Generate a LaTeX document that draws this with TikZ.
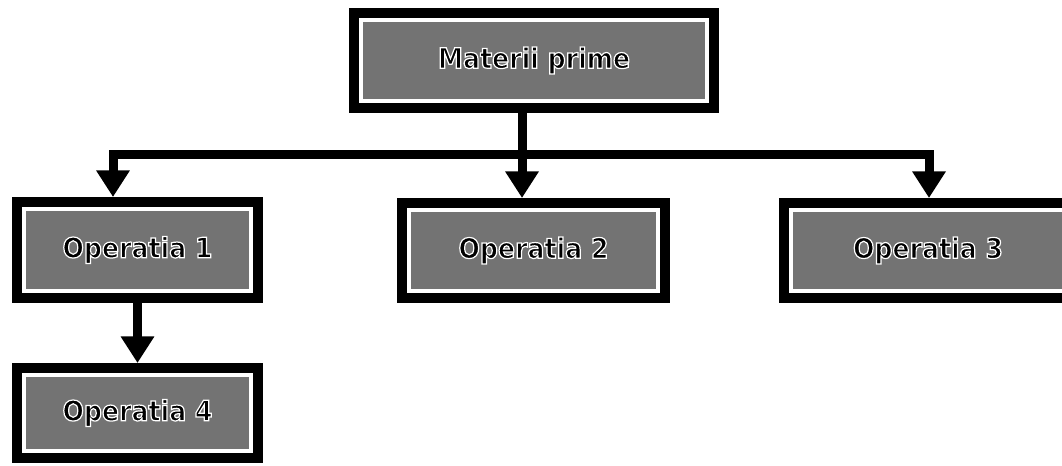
\documentclass[tikz,border=0pt]{standalone}
\usepackage{fontspec}
\newfontfamily\boxfont[FakeStretch=0.9]{DejaVu Sans Bold}
\usetikzlibrary{arrows.meta}
% black letters, white halo
\newcommand{\boxtext}[1]{{\special{pdf:literal direct 2 Tr 0.9 w 1 1 1 RG}#1\special{pdf:literal direct 0 Tr 0 0 0 RG}}}
\tikzset{
  opbox/.style={rectangle, fill=black!55, draw=white, line width=3pt,
    preaction={draw=black, line width=18pt},
    outer sep=9pt, inner sep=0pt,
    font=\boxfont\fontsize{21}{25}\selectfont},
  link/.style={line width=6.75pt, line cap=rect},
  flow/.style={link, -{Triangle[width=24pt,length=20pt]}}
}
\begin{document}
\begin{tikzpicture}[x=0.75pt,y=0.75pt,yscale=-1,xscale=1]
        \useasboundingbox (0,0) rectangle (1062,465);

        % Boxes
        \node[opbox, minimum width=259.5pt, minimum height=60.75pt] (mat) at (534,60.5) {\boxtext{Materii prime}};
        \node[opbox, minimum width=170.25pt, minimum height=61.5pt] (op1) at (137.5,250) {\boxtext{Operatia 1}};
        \node[opbox, minimum width=186.75pt, minimum height=60.75pt] (op2) at (533.5,250.5) {\boxtext{Operatia 2}};
        \node[opbox, minimum width=205.5pt, minimum height=60.75pt] (op3) at (928,250.5) {\boxtext{Operatia 3}};
        \node[opbox, minimum width=170.25pt, minimum height=57pt] (op4) at (137.5,413) {\boxtext{Operatia 4}};

        % Branch points
        \coordinate (split) at (522,154);
        \coordinate (left) at (113,154);
        \coordinate (right) at (929,154);

        % Connectors
        \draw[link] (mat.south -| split) -- (split);
        \draw[link] (left) -- (right);
        \draw[flow] (left) -- (left |- op1.north);
        \draw[flow] (split) -- (split |- op2.north);
        \draw[flow] (right) -- (right |- op3.north);
        \draw[flow] (op1.south) -- (op4.north);

\end{tikzpicture}
\end{document}
